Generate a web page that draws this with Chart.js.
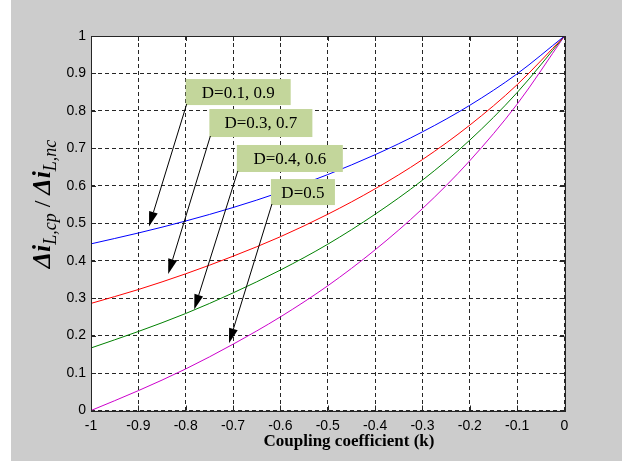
<!DOCTYPE html>
<html>
<head>
<meta charset="utf-8">
<script src="https://cdn.jsdelivr.net/npm/chart.js"></script>
<style>
  html, body { margin: 0; padding: 0; background: #fff; }
  canvas { display: block; }
</style>
</head>
<body>
<canvas id="chart" width="626" height="461"></canvas>
<script>
// values
const couplingK = [-1, -0.9, -0.8, -0.7, -0.6, -0.5, -0.4, -0.3, -0.2, -0.1, 0];
const ratioD19 = [0.445, 0.474, 0.506, 0.542, 0.583, 0.630, 0.683, 0.744, 0.815, 0.899, 1];
const ratioD37 = [0.286, 0.323, 0.365, 0.412, 0.464, 0.524, 0.592, 0.670, 0.762, 0.870, 1];
const ratioD46 = [0.167, 0.211, 0.259, 0.314, 0.375, 0.444, 0.524, 0.615, 0.722, 0.849, 1];
const ratioD5 = [0.000, 0.053, 0.111, 0.177, 0.250, 0.333, 0.429, 0.539, 0.667, 0.818, 1];

const xTickLabels = ['-1', '-0.9', '-0.8', '-0.7', '-0.6', '-0.5', '-0.4', '-0.3', '-0.2', '-0.1', '0'];
const yTickLabels = ['0', '0.1', '0.2', '0.3', '0.4', '0.5', '0.6', '0.7', '0.8', '0.9', '1'];
const seriesLabels = ['D=0.1, 0.9', 'D=0.3, 0.7', 'D=0.4, 0.6', 'D=0.5'];

// callout boxes: top-left corner and arrow tip in data units
const callouts = [
  { text: seriesLabels[0], box: [-0.80, 0.885], w: 105, h: 26, tip: [-0.8775, 0.491] },
  { text: seriesLabels[1], box: [-0.75, 0.805], w: 103, h: 28, tip: [-0.837, 0.3645] },
  { text: seriesLabels[2], box: [-0.692, 0.709], w: 106, h: 27, tip: [-0.782, 0.270] },
  { text: seriesLabels[3], box: [-0.62, 0.618], w: 64, h: 26, tip: [-0.7086, 0.1794] }
];

const toPoints = ys => couplingK.map((k, i) => ({ x: k, y: ys[i] }));

function series(label, ys, color) {
  return {
    label, data: toPoints(ys), borderColor: color, borderWidth: 1,
    pointRadius: 0, fill: false, cubicInterpolationMode: 'monotone'
  };
}

const backdrop = {
  id: 'backdrop',
  beforeDraw(chart) {
    const { ctx, chartArea: a } = chart;
    ctx.save();
    ctx.fillStyle = '#fff';
    ctx.fillRect(0, 0, chart.width, chart.height);
    ctx.fillStyle = '#cccccc';
    ctx.fillRect(11, 0, 611, chart.height);
    ctx.fillStyle = '#fff';
    ctx.fillRect(a.left, a.top, a.right - a.left, a.bottom - a.top);
    ctx.restore();
  }
};

const calloutPlugin = {
  id: 'callouts',
  afterDatasetsDraw(chart) {
    const { ctx, scales: { x: xs, y: ys } } = chart;
    ctx.save();
    callouts.forEach(c => {
      const bx = xs.getPixelForValue(c.box[0]);
      const by = ys.getPixelForValue(c.box[1]);
      ctx.fillStyle = '#c3d69b';
      ctx.fillRect(bx, by, c.w, c.h);
      ctx.fillStyle = '#000';
      ctx.font = '17px "Liberation Serif"';
      ctx.textAlign = 'center';
      ctx.textBaseline = 'middle';
      ctx.fillText(c.text, bx + c.w / 2, by + c.h / 2 + 1);

      const sx = bx + 1, sy = by + c.h - 1;
      const tx = xs.getPixelForValue(c.tip[0]);
      const ty = ys.getPixelForValue(c.tip[1]);
      const ang = Math.atan2(ty - sy, tx - sx);
      const hl = 15, hw = 4.5;
      const baseX = tx - hl * Math.cos(ang), baseY = ty - hl * Math.sin(ang);
      ctx.strokeStyle = '#000';
      ctx.lineWidth = 1;
      ctx.beginPath();
      ctx.moveTo(sx, sy);
      ctx.lineTo(baseX, baseY);
      ctx.stroke();
      ctx.beginPath();
      ctx.moveTo(tx, ty);
      ctx.lineTo(baseX + hw * Math.sin(ang), baseY - hw * Math.cos(ang));
      ctx.lineTo(baseX - hw * Math.sin(ang), baseY + hw * Math.cos(ang));
      ctx.closePath();
      ctx.fill();
    });
    ctx.restore();
  }
};

const frame = {
  id: 'frame',
  afterDraw(chart) {
    const { ctx, chartArea: a, scales: { x: xs, y: ys } } = chart;
    ctx.save();
    ctx.strokeStyle = '#262626';
    ctx.lineWidth = 1;
    ctx.beginPath();
    xs.ticks.forEach(t => {
      const px = Math.round(xs.getPixelForValue(t.value)) + 0.5;
      ctx.moveTo(px, a.bottom); ctx.lineTo(px, a.bottom - 5);
      ctx.moveTo(px, a.top); ctx.lineTo(px, a.top + 5);
    });
    ys.ticks.forEach(t => {
      const py = Math.round(ys.getPixelForValue(t.value)) + 0.5;
      ctx.moveTo(a.left, py); ctx.lineTo(a.left + 5, py);
      ctx.moveTo(a.right, py); ctx.lineTo(a.right - 5, py);
    });
    ctx.stroke();
    ctx.strokeRect(Math.round(a.left) + 0.5, Math.round(a.top) + 0.5,
      Math.round(a.right - a.left), Math.round(a.bottom - a.top));

    // x axis title
    ctx.fillStyle = '#000';
    ctx.font = 'bold 17px "Liberation Serif"';
    ctx.textAlign = 'center';
    ctx.textBaseline = 'alphabetic';
    ctx.fillText('Coupling coefficient (k)', 349, 446);

    // y axis title with subscripts
    const parts = [
      ['Δi', 'italic bold 26px "Liberation Serif"', 0],
      ['L,cp', 'italic 18px "Liberation Serif"', 6],
      [' / ', '24px "Liberation Serif"', 0],
      ['Δi', 'italic bold 26px "Liberation Serif"', 0],
      ['L,nc', 'italic 18px "Liberation Serif"', 6]
    ];
    let total = 0;
    parts.forEach(p => { ctx.font = p[1]; p.push(ctx.measureText(p[0]).width); total += p[3]; });
    ctx.translate(50, 204);
    ctx.rotate(-Math.PI / 2);
    ctx.textAlign = 'left';
    let cx = -total / 2;
    parts.forEach(p => {
      ctx.font = p[1];
      ctx.fillText(p[0], cx, p[2]);
      cx += p[3];
    });
    ctx.restore();
  }
};

new Chart(document.getElementById('chart'), {
  type: 'line',
  data: {
    datasets: [
      series(seriesLabels[0], ratioD19, '#0000ff'),
      series(seriesLabels[1], ratioD37, '#ff0000'),
      series(seriesLabels[2], ratioD46, '#008000'),
      series(seriesLabels[3], ratioD5, '#cc00cc')
    ]
  },
  options: {
    responsive: false,
    animation: false,
    layout: { padding: { left: 0, top: 36, right: 61.5, bottom: 0 } },
    plugins: { legend: { display: false }, tooltip: { enabled: false } },
    scales: {
      x: {
        type: 'linear', min: -1, max: 0,
        afterFit(scale) { scale.height = 50.5; },
        grid: { color: '#262626', drawTicks: false, lineWidth: 1 },
        border: { display: false, dash: [4, 3] },
        ticks: {
          stepSize: 0.1, padding: 7, color: '#000', maxRotation: 0, autoSkip: false,
          font: { family: '"Liberation Sans", Arial', size: 14 },
          callback: (v, i) => xTickLabels[i]
        }
      },
      y: {
        type: 'linear', min: 0, max: 1,
        afterFit(scale) { scale.width = 91; },
        grid: { color: '#262626', drawTicks: false, lineWidth: 1 },
        border: { display: false, dash: [4, 3] },
        ticks: {
          stepSize: 0.1, padding: 5, color: '#000', autoSkip: false,
          font: { family: '"Liberation Sans", Arial', size: 14 },
          callback: (v, i) => yTickLabels[i]
        }
      }
    }
  },
  plugins: [backdrop, calloutPlugin, frame]
});
</script>
</body>
</html>
